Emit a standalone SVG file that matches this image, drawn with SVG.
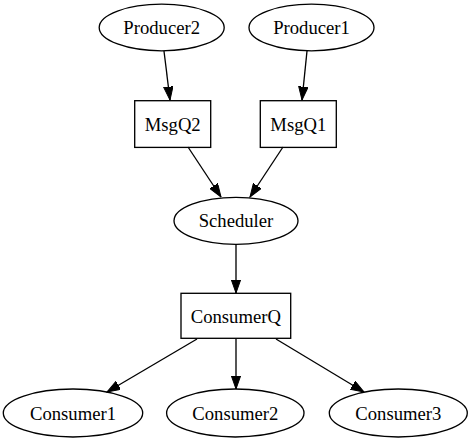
<svg xmlns="http://www.w3.org/2000/svg" width="472" height="443" viewBox="0 0 472 443">
<style>
.n{fill:none;stroke:#000;stroke-width:1.33}
.t{font-family:"Liberation Serif","Times New Roman",serif;font-size:18.67px;text-anchor:middle;fill:#000}
.e{fill:none;stroke:#000;stroke-width:1.33}
</style>
<defs>
<marker id="ah" markerUnits="userSpaceOnUse" markerWidth="14" markerHeight="10" refX="13.3" refY="4.7" orient="auto" viewBox="0 0 14 10">
<polygon points="0,0 13.3,4.7 0,9.4" fill="#000" stroke="#000" stroke-width="1"/>
</marker>
</defs>
<rect width="472" height="443" fill="#fff"/>
<g id="edges">
<path class="e" d="M164,51 L170,100" marker-end="url(#ah)"/>
<path class="e" d="M307,51 L302,100" marker-end="url(#ah)"/>
<path class="e" d="M188,147 L221,197" marker-end="url(#ah)"/>
<path class="e" d="M283,147 L250,197" marker-end="url(#ah)"/>
<path class="e" d="M236,244 L236,293" marker-end="url(#ah)"/>
<path class="e" d="M197,339 L107,392" marker-end="url(#ah)"/>
<path class="e" d="M236,339 L236,389" marker-end="url(#ah)"/>
<path class="e" d="M276,339 L364,392" marker-end="url(#ah)"/>
</g>
<g id="Producer2"><ellipse class="n" cx="161.7" cy="27.5" rx="62.5" ry="23.3"/><text class="t" x="161.7" y="34">Producer2</text></g>
<g id="Producer1"><ellipse class="n" cx="311.5" cy="27.5" rx="62.5" ry="23.3"/><text class="t" x="311.5" y="34">Producer1</text></g>
<g id="MsgQ2"><rect class="n" x="134.7" y="100.7" width="76" height="46.7"/><text class="t" x="172.7" y="130.5">MsgQ2</text></g>
<g id="MsgQ1"><rect class="n" x="260.3" y="100.7" width="76" height="46.7"/><text class="t" x="298.3" y="130.5">MsgQ1</text></g>
<g id="Scheduler"><ellipse class="n" cx="236" cy="220.8" rx="62" ry="23.5"/><text class="t" x="236" y="227.3">Scheduler</text></g>
<g id="ConsumerQ"><rect class="n" x="181" y="293.3" width="109.7" height="45"/><text class="t" x="235.8" y="322.5">ConsumerQ</text></g>
<g id="Consumer1"><ellipse class="n" cx="73" cy="413" rx="69.7" ry="24"/><text class="t" x="73" y="419.5">Consumer1</text></g>
<g id="Consumer2"><ellipse class="n" cx="235.3" cy="413" rx="68.7" ry="24"/><text class="t" x="235.3" y="419.5">Consumer2</text></g>
<g id="Consumer3"><ellipse class="n" cx="398.3" cy="413" rx="69" ry="24"/><text class="t" x="398.3" y="419.5">Consumer3</text></g>
</svg>
